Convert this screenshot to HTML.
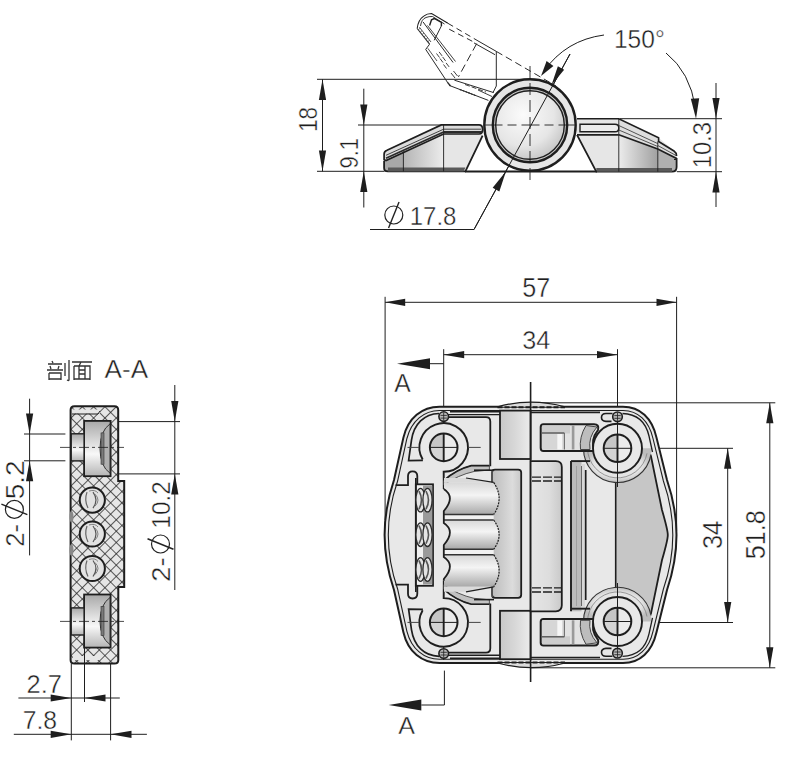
<!DOCTYPE html>
<html><head><meta charset="utf-8"><style>
html,body{margin:0;padding:0;background:#fff;width:799px;height:765px;overflow:hidden}
svg{display:block}
text{font-family:"Liberation Sans",sans-serif;fill:#1e1e1e}
</style></head><body>
<svg width="799" height="765" viewBox="0 0 799 765">
<rect width="799" height="765" fill="#fff"/>

<defs>
<linearGradient id="gH" x1="0" y1="0" x2="1" y2="0"><stop offset="0" stop-color="#9a9a9a"/><stop offset="1" stop-color="#ececec"/></linearGradient>
<linearGradient id="gHr" x1="0" y1="0" x2="1" y2="0"><stop offset="0" stop-color="#ececec"/><stop offset="1" stop-color="#a0a0a0"/></linearGradient>
<linearGradient id="gBar" x1="0" y1="0" x2="1" y2="0"><stop offset="0" stop-color="#c4c4c4"/><stop offset="0.5" stop-color="#e2e2e2"/><stop offset="1" stop-color="#cfcfcf"/></linearGradient>
<linearGradient id="gRoll" x1="0" y1="0" x2="0" y2="1"><stop offset="0" stop-color="#d8d8d8"/><stop offset="0.4" stop-color="#f4f4f4"/><stop offset="1" stop-color="#a8a8a8"/></linearGradient>
<linearGradient id="gPin" x1="0" y1="0" x2="0" y2="1"><stop offset="0" stop-color="#a8a8a8"/><stop offset="0.6" stop-color="#f8f8f8"/><stop offset="1" stop-color="#b4b4b4"/></linearGradient>
<radialGradient id="gBall" cx="0.4" cy="0.35" r="0.75"><stop offset="0" stop-color="#fbfbfb"/><stop offset="0.6" stop-color="#e6e6e6"/><stop offset="1" stop-color="#bdbdbd"/></radialGradient>
<linearGradient id="gH2" x1="0" y1="0" x2="1" y2="0"><stop offset="0" stop-color="#c8c8c8"/><stop offset="0.5" stop-color="#d8d8d8"/><stop offset="1" stop-color="#ececec"/></linearGradient>
<linearGradient id="gBar2" x1="0" y1="0" x2="1" y2="0"><stop offset="0" stop-color="#bcbcbc"/><stop offset="0.7" stop-color="#dcdcdc"/><stop offset="1" stop-color="#c8c8c8"/></linearGradient>
<linearGradient id="gBar3" x1="0" y1="0" x2="1" y2="0"><stop offset="0" stop-color="#e6e6e6"/><stop offset="0.6" stop-color="#dddddd"/><stop offset="1" stop-color="#c9c9c9"/></linearGradient>
<linearGradient id="gSlot" x1="0" y1="0" x2="0" y2="1"><stop offset="0" stop-color="#cfcfcf"/><stop offset="1" stop-color="#e6e6e6"/></linearGradient>
<radialGradient id="gRing" cx="0.5" cy="0.5" r="0.5"><stop offset="0.7" stop-color="#e4e4e4"/><stop offset="1" stop-color="#bdbdbd"/></radialGradient>
<pattern id="hatch" width="8" height="8" patternUnits="userSpaceOnUse" patternTransform="translate(71,406) rotate(45)">
<rect width="8" height="8" fill="#e6e6e6"/>
<line x1="0" y1="0" x2="0" y2="8" stroke="#262626" stroke-width="1.5"/>
<line x1="0" y1="0" x2="8" y2="0" stroke="#262626" stroke-width="1.5"/>
</pattern>
</defs>


<line x1="317.00" y1="79.30" x2="530.00" y2="79.30" stroke="#1e1e1e" stroke-width="1.0"/>
<line x1="317.00" y1="171.30" x2="386.00" y2="171.30" stroke="#1e1e1e" stroke-width="1.0"/>
<line x1="358.00" y1="125.00" x2="443.00" y2="125.00" stroke="#1e1e1e" stroke-width="1.0"/>
<line x1="620.00" y1="118.70" x2="722.00" y2="118.70" stroke="#1e1e1e" stroke-width="1.0"/>
<line x1="677.00" y1="171.70" x2="722.00" y2="171.70" stroke="#1e1e1e" stroke-width="1.0"/>
<line x1="322.50" y1="79.30" x2="322.50" y2="171.30" stroke="#1e1e1e" stroke-width="1.0"/>
<polygon points="322.50,79.30 326.10,100.00 318.90,100.00" fill="#1e1e1e"/>
<polygon points="322.50,171.30 318.90,150.50 326.10,150.50" fill="#1e1e1e"/>
<text x="0" y="0" font-size="48" transform="translate(307.75,119.10) rotate(-90) scale(0.4694,0.5441) translate(-27.50,17.00)" fill="#222" stroke="#fff" stroke-width="0.79" paint-order="normal">18</text>
<line x1="363.80" y1="88.70" x2="363.80" y2="207.50" stroke="#1e1e1e" stroke-width="1.0"/>
<polygon points="363.80,125.00 360.20,104.50 367.40,104.50" fill="#1e1e1e"/>
<polygon points="363.80,171.30 367.40,192.00 360.20,192.00" fill="#1e1e1e"/>
<text x="0" y="0" font-size="48" transform="translate(348.55,153.20) rotate(-90) scale(0.4571,0.5441) translate(-33.50,17.00)" fill="#222" stroke="#fff" stroke-width="0.80" paint-order="normal">9.1</text>
<line x1="716.00" y1="83.00" x2="716.00" y2="207.00" stroke="#1e1e1e" stroke-width="1.0"/>
<polygon points="716.00,118.70 712.40,98.00 719.60,98.00" fill="#1e1e1e"/>
<polygon points="716.00,171.70 719.60,192.50 712.40,192.50" fill="#1e1e1e"/>
<text x="0" y="0" font-size="48" transform="translate(701.45,144.80) rotate(-90) scale(0.4944,0.5441) translate(-47.50,17.00)" fill="#222" stroke="#fff" stroke-width="0.77" paint-order="normal">10.3</text>
<text x="0" y="0" font-size="48" transform="translate(639.55,38.75) rotate(0) scale(0.5117,0.5441) translate(-50.00,17.00)" fill="#222" stroke="#fff" stroke-width="0.76" paint-order="normal">150&#176;</text>
<path d="M604,35 Q566,40 544,71" fill="none" stroke="#1e1e1e" stroke-width="1.0" />
<polygon points="541.00,76.00 546.59,61.05 553.41,65.95" fill="#1e1e1e"/>
<path d="M666,53 Q690,72 695.5,108" fill="none" stroke="#1e1e1e" stroke-width="1.0" />
<polygon points="696.00,118.70 690.81,98.71 699.19,98.29" fill="#1e1e1e"/>
<line x1="370.00" y1="229.50" x2="474.00" y2="229.50" stroke="#1e1e1e" stroke-width="1.0"/>
<line x1="474.00" y1="229.50" x2="570.00" y2="54.00" stroke="#1e1e1e" stroke-width="1.0"/>
<polygon points="551.50,85.00 557.86,66.24 564.14,69.76" fill="#1e1e1e"/>
<text x="0" y="0" font-size="48" transform="translate(433.50,215.55) rotate(0) scale(0.4989,0.5441) translate(-47.50,17.00)" fill="#222" stroke="#fff" stroke-width="0.77" paint-order="normal">17.8</text>
<circle cx="393.80" cy="215.00" r="9.0" fill="none" stroke="#222" stroke-width="1.2"/>
<line x1="399.04" y1="202.02" x2="388.56" y2="227.98" stroke="#222" stroke-width="1.4"/>
<polygon points="384.10,151.50 441.30,124.90 482.00,124.90 482.60,135.60 465.40,171.40 384.10,171.40" fill="#e6e6e6" stroke="none" stroke-width="1.0" />
<polygon points="384.10,160.00 443.60,133.00 443.60,171.40 384.10,171.40" fill="url(#gH)" stroke="none" stroke-width="1.0" />
<polygon points="384.10,160.00 403.40,151.30 403.40,171.40 384.10,171.40" fill="#a8a8a8" stroke="none" stroke-width="1.0" />
<path d="M384.1,159.7 L384.1,154 Q384.1,151.5 387,150.3 L441.3,124.9 L479,124.9 Q482.6,124.9 482.6,129.5 Q482.6,134 479,134 L443.6,134 L386,160.5 Z" fill="#dcdcdc" stroke="#1e1e1e" stroke-width="1.7" />
<line x1="386.00" y1="155.30" x2="443.60" y2="129.20" stroke="#444" stroke-width="1.0"/>
<line x1="443.60" y1="129.20" x2="481.00" y2="129.20" stroke="#444" stroke-width="1.0"/>
<line x1="386.00" y1="158.30" x2="443.60" y2="132.00" stroke="#2a2a2a" stroke-width="1.8"/>
<line x1="443.60" y1="132.00" x2="482.00" y2="132.00" stroke="#2a2a2a" stroke-width="1.8"/>
<path d="M384.1,161 L384.1,168 Q384.1,171.4 388,171.4 L465.4,171.4 L482.6,135.6" fill="none" stroke="#1e1e1e" stroke-width="1.8" />
<polygon points="388.00,167.50 465.40,167.50 463.60,171.40 388.00,171.40" fill="#5a5a5a" stroke="none" stroke-width="1.0" />
<line x1="403.40" y1="151.30" x2="403.40" y2="171.40" stroke="#1e1e1e" stroke-width="0.9"/>
<line x1="443.60" y1="124.90" x2="443.60" y2="171.40" stroke="#1e1e1e" stroke-width="0.9"/>
<polygon points="577.00,118.70 618.80,118.70 658.60,137.80 676.60,152.80 676.60,171.70 596.30,171.70 577.00,134.80" fill="#e6e6e6" stroke="none" stroke-width="1.0" />
<polygon points="618.80,134.80 657.80,149.00 657.80,171.70 618.80,171.70" fill="url(#gHr)" stroke="none" stroke-width="1.0" />
<polygon points="657.80,149.00 676.60,157.30 676.60,171.70 657.80,171.70" fill="#b0b0b0" stroke="none" stroke-width="1.0" />
<polygon points="618.80,118.70 658.60,137.80 658.60,141.50 676.60,152.80 676.60,157.30 657.80,149.00 618.80,134.80" fill="#dedede" stroke="none" stroke-width="1.0" />
<path d="M577,118.7 L618.8,118.7 L658.6,137.8 L658.6,141.5 L674,151 Q676.6,152.8 676.6,156" fill="none" stroke="#1e1e1e" stroke-width="1.6" />
<line x1="618.80" y1="125.50" x2="657.80" y2="143.60" stroke="#444" stroke-width="0.9"/>
<line x1="657.80" y1="145.50" x2="676.00" y2="155.50" stroke="#444" stroke-width="0.9"/>
<line x1="618.80" y1="130.00" x2="657.80" y2="146.50" stroke="#444" stroke-width="0.9"/>
<path d="M618.8,134.8 L657.8,149 L676.6,158.5" fill="none" stroke="#1e1e1e" stroke-width="1.7" />
<path d="M580,124.3 L615,124.3 Q618.8,124.3 618.8,128 Q618.8,131.8 615,131.8 L580,131.8 Z" fill="#ececec" stroke="#1e1e1e" stroke-width="1.4" />
<line x1="577.00" y1="134.80" x2="618.80" y2="134.80" stroke="#1e1e1e" stroke-width="1.8"/>
<path d="M577,134.8 L596.3,171.7 L672,171.7 Q676.6,171.7 676.6,167 L676.6,158" fill="none" stroke="#1e1e1e" stroke-width="1.8" />
<polygon points="596.30,168.00 672.00,168.00 672.00,171.70 596.30,171.70" fill="#5a5a5a" stroke="none" stroke-width="1.0" />
<line x1="618.80" y1="118.70" x2="618.80" y2="171.70" stroke="#1e1e1e" stroke-width="0.9"/>
<line x1="657.80" y1="141.50" x2="657.80" y2="171.70" stroke="#1e1e1e" stroke-width="0.9"/>
<line x1="674.00" y1="159.50" x2="676.60" y2="159.50" stroke="#1e1e1e" stroke-width="1.0"/>
<line x1="465.00" y1="171.50" x2="597.00" y2="171.50" stroke="#1e1e1e" stroke-width="2.0"/>
<circle cx="530.00" cy="125.00" r="45.70" fill="#e6e6e6" stroke="#1e1e1e" stroke-width="2.4" />
<circle cx="530.00" cy="125.00" r="37.20" fill="#c8c8c8" stroke="#1e1e1e" stroke-width="2.4" />
<circle cx="530.00" cy="125.00" r="34.30" fill="url(#gBall)" stroke="#1e1e1e" stroke-width="1.4" />
<line x1="484.50" y1="125.00" x2="576.00" y2="125.00" stroke="#1e1e1e" stroke-width="0.9" stroke-dasharray="18 5 9 5"/>
<line x1="530.00" y1="66.00" x2="530.00" y2="183.00" stroke="#1e1e1e" stroke-width="0.9" stroke-dasharray="12 5"/>
<line x1="474.00" y1="229.50" x2="570.00" y2="54.00" stroke="#1e1e1e" stroke-width="1.0"/>
<polygon points="506.00,171.20 499.34,191.41 492.66,187.79" fill="#1e1e1e"/>
<path d="M417.2,28.5 Q418,20 423.7,16.1 Q427,13.5 431.6,13.5 L447.9,23.3" fill="none" stroke="#1e1e1e" stroke-width="1.1" />
<path d="M420.5,26 Q421.5,19 426,17.5 Q429,16.3 432.5,16.5 L444.5,24" fill="none" stroke="#1e1e1e" stroke-width="0.9" />
<path d="M429.6,25.5 L431.5,19.8 L434.2,18.5 L441.4,22.5 L441.4,25.9" fill="none" stroke="#1e1e1e" stroke-width="1.4" />
<line x1="441.40" y1="25.90" x2="434.20" y2="40.30" stroke="#2a2a2a" stroke-width="1.0"/>
<line x1="417.20" y1="28.50" x2="429.60" y2="44.20" stroke="#2a2a2a" stroke-width="1.1"/>
<line x1="419.40" y1="27.20" x2="431.00" y2="42.00" stroke="#2a2a2a" stroke-width="0.8"/>
<line x1="418.50" y1="29.50" x2="420.10" y2="28.30" stroke="#2a2a2a" stroke-width="0.7"/>
<line x1="420.40" y1="31.90" x2="422.00" y2="30.70" stroke="#2a2a2a" stroke-width="0.7"/>
<line x1="422.30" y1="34.30" x2="423.90" y2="33.10" stroke="#2a2a2a" stroke-width="0.7"/>
<line x1="424.20" y1="36.70" x2="425.80" y2="35.50" stroke="#2a2a2a" stroke-width="0.7"/>
<line x1="426.10" y1="39.10" x2="427.70" y2="37.90" stroke="#2a2a2a" stroke-width="0.7"/>
<line x1="428.00" y1="41.50" x2="429.60" y2="40.30" stroke="#2a2a2a" stroke-width="0.7"/>
<line x1="429.60" y1="44.20" x2="425.70" y2="49.40" stroke="#2a2a2a" stroke-width="1.0"/>
<line x1="425.70" y1="49.40" x2="447.30" y2="82.10" stroke="#2a2a2a" stroke-width="1.0"/>
<line x1="427.80" y1="48.30" x2="437.00" y2="61.00" stroke="#2a2a2a" stroke-width="0.8"/>
<line x1="423.10" y1="22.00" x2="453.10" y2="62.50" stroke="#2a2a2a" stroke-width="1.0"/>
<line x1="427.50" y1="25.50" x2="455.50" y2="61.50" stroke="#2a2a2a" stroke-width="0.9"/>
<line x1="436.50" y1="53.50" x2="439.50" y2="57.50" stroke="#2a2a2a" stroke-width="0.9"/>
<line x1="439.10" y1="51.90" x2="442.10" y2="55.90" stroke="#2a2a2a" stroke-width="0.9"/>
<line x1="440.00" y1="58.50" x2="443.00" y2="62.50" stroke="#2a2a2a" stroke-width="0.9"/>
<line x1="442.60" y1="56.90" x2="445.60" y2="60.90" stroke="#2a2a2a" stroke-width="0.9"/>
<line x1="443.50" y1="64.50" x2="446.50" y2="68.50" stroke="#2a2a2a" stroke-width="0.9"/>
<line x1="446.10" y1="62.90" x2="449.10" y2="66.90" stroke="#2a2a2a" stroke-width="0.9"/>
<line x1="451.00" y1="73.00" x2="455.00" y2="78.00" stroke="#2a2a2a" stroke-width="0.9"/>
<line x1="453.50" y1="71.00" x2="457.50" y2="76.00" stroke="#2a2a2a" stroke-width="0.9"/>
<line x1="447.90" y1="23.30" x2="478.00" y2="40.90" stroke="#2a2a2a" stroke-width="1.0" stroke-dasharray="6 4"/>
<line x1="449.20" y1="29.20" x2="475.40" y2="42.90" stroke="#2a2a2a" stroke-width="1.0" stroke-dasharray="6 4"/>
<line x1="478.00" y1="40.90" x2="496.30" y2="51.40" stroke="#2a2a2a" stroke-width="1.0"/>
<line x1="474.00" y1="42.90" x2="495.00" y2="54.70" stroke="#2a2a2a" stroke-width="1.0"/>
<line x1="496.30" y1="51.40" x2="556.00" y2="86.00" stroke="#2a2a2a" stroke-width="1.0" stroke-dasharray="7 4"/>
<line x1="496.30" y1="51.40" x2="496.30" y2="86.00" stroke="#2a2a2a" stroke-width="1.0"/>
<line x1="496.30" y1="86.00" x2="493.00" y2="92.60" stroke="#2a2a2a" stroke-width="1.0"/>
<line x1="476.70" y1="43.60" x2="458.40" y2="76.90" stroke="#2a2a2a" stroke-width="1.0" stroke-dasharray="8 4"/>
<line x1="447.30" y1="82.10" x2="450.50" y2="86.00" stroke="#2a2a2a" stroke-width="1.4"/>
<line x1="454.40" y1="80.20" x2="493.70" y2="92.60" stroke="#2a2a2a" stroke-width="1.0"/>
<line x1="449.20" y1="85.40" x2="488.40" y2="100.40" stroke="#2a2a2a" stroke-width="1.0"/>
<line x1="465.00" y1="84.50" x2="486.00" y2="92.00" stroke="#2a2a2a" stroke-width="0.9" stroke-dasharray="5 2"/>
<line x1="459.70" y1="89.40" x2="475.40" y2="95.40" stroke="#2a2a2a" stroke-width="1.1" stroke-dasharray="2 1"/>
<line x1="478.00" y1="90.00" x2="492.00" y2="96.50" stroke="#2a2a2a" stroke-width="0.9"/>
<text x="0" y="0" font-size="48" transform="translate(126.35,369.90) rotate(0) scale(0.5437,0.5212) translate(-40.00,16.50)" fill="#222" stroke="#fff" stroke-width="0.75" paint-order="normal">A-A</text>
<g stroke="#333" stroke-width="1.3" fill="none"><path d="M52,361 L53,363 M48,364 L62,364 M50,366 L51,369 M59,366 L58,369 M47,370 L63,370 M49,373 L49,380 M49,373 L61,373 L61,380 M49,379 L61,379 M65,363 L65,376 M69,360 L69,380 Q69,381 67,380"/><path d="M72,362 L92,362 M81,362 L79,366 M74,366 L74,380 M74,366 L90,366 L90,380 M74,379 L90,379 M79,366 L79,379 M85,366 L85,379 M79,370 L85,370 M79,374 L85,374"/></g>
<path d="M70.6,410 Q70.6,406.2 74.5,406.2 L114.5,406.2 Q118.2,406.2 118.2,410 L118.2,481 L124.2,481 L124.2,587 L118.3,587 L118.3,660 Q118.3,663.6 114.5,663.6 L74.5,663.6 Q70.6,663.6 70.6,660 Z" fill="url(#hatch)" stroke="#1e1e1e" stroke-width="2.0" />
<rect x="84.1" y="420.9" width="26.5" height="55.3" fill="url(#gPin)" stroke="#1e1e1e" stroke-width="1.8"/>
<path d="M110,423.9 Q100,430.9 100,448.54999999999995 Q100,466.2 110,473.2 Z" fill="#b0b0b0" stroke="#333" stroke-width="1.0"/>
<rect x="101" y="432.9" width="3" height="31.299999999999997" fill="#7a7a7a" stroke="#333" stroke-width="0.6"/>
<rect x="71.2" y="433.8" width="12.9" height="27.1" fill="url(#gPin)" stroke="#1e1e1e" stroke-width="1.4"/>
<rect x="84.1" y="594.5" width="26.5" height="53.1" fill="url(#gPin)" stroke="#1e1e1e" stroke-width="1.8"/>
<path d="M110,597.5 Q100,604.5 100,621.05 Q100,637.6 110,644.6 Z" fill="#b0b0b0" stroke="#333" stroke-width="1.0"/>
<rect x="101" y="606.5" width="3" height="29.1" fill="#7a7a7a" stroke="#333" stroke-width="0.6"/>
<rect x="71.2" y="607.9" width="12.9" height="27.1" fill="url(#gPin)" stroke="#1e1e1e" stroke-width="1.4"/>
<rect x="73" y="409.5" width="27" height="4" fill="#e6e6e6" stroke="none"/>
<path d="M72,414 L98,414 L100,411" fill="none" stroke="#1e1e1e" stroke-width="1.0" />
<rect x="73" y="656" width="27" height="4" fill="#e6e6e6" stroke="none"/>
<circle cx="92.30" cy="500.10" r="12.60" fill="#e2e2e2" stroke="#1e1e1e" stroke-width="2.0" />
<path d="M87,492.1 Q84,500.1 88,508.1" fill="none" stroke="#666" stroke-width="1.2" />
<path d="M93,492.1 Q99,500.1 93,508.1" fill="none" stroke="#555" stroke-width="1.2" />
<path d="M95,494.1 Q101,500.1 95,506.1" fill="none" stroke="#777" stroke-width="0.9" />
<path d="M89,491.1 Q95,489.1 98,493.1" fill="none" stroke="#777" stroke-width="0.9" />
<circle cx="92.30" cy="534.00" r="12.60" fill="#e2e2e2" stroke="#1e1e1e" stroke-width="2.0" />
<path d="M87,526.0 Q84,534.0 88,542.0" fill="none" stroke="#666" stroke-width="1.2" />
<path d="M93,526.0 Q99,534.0 93,542.0" fill="none" stroke="#555" stroke-width="1.2" />
<path d="M95,528.0 Q101,534.0 95,540.0" fill="none" stroke="#777" stroke-width="0.9" />
<path d="M89,525.0 Q95,523.0 98,527.0" fill="none" stroke="#777" stroke-width="0.9" />
<circle cx="92.30" cy="568.50" r="12.60" fill="#e2e2e2" stroke="#1e1e1e" stroke-width="2.0" />
<path d="M87,560.5 Q84,568.5 88,576.5" fill="none" stroke="#666" stroke-width="1.2" />
<path d="M93,560.5 Q99,568.5 93,576.5" fill="none" stroke="#555" stroke-width="1.2" />
<path d="M95,562.5 Q101,568.5 95,574.5" fill="none" stroke="#777" stroke-width="0.9" />
<path d="M89,559.5 Q95,557.5 98,561.5" fill="none" stroke="#777" stroke-width="0.9" />
<ellipse cx="71.5" cy="516.7" rx="2" ry="6" fill="#888"/>
<ellipse cx="71.5" cy="550" rx="2" ry="6" fill="#888"/>
<line x1="60.00" y1="447.40" x2="124.00" y2="447.40" stroke="#1e1e1e" stroke-width="0.8" stroke-dasharray="10 3 3 3"/>
<line x1="60.00" y1="621.40" x2="124.00" y2="621.40" stroke="#1e1e1e" stroke-width="0.8" stroke-dasharray="10 3 3 3"/>
<line x1="119.00" y1="421.60" x2="180.00" y2="421.60" stroke="#1e1e1e" stroke-width="1.0"/>
<line x1="119.00" y1="473.90" x2="180.00" y2="473.90" stroke="#1e1e1e" stroke-width="1.0"/>
<line x1="174.80" y1="385.00" x2="174.80" y2="590.00" stroke="#1e1e1e" stroke-width="1.0"/>
<polygon points="174.80,421.60 171.20,401.00 178.40,401.00" fill="#1e1e1e"/>
<polygon points="174.80,473.90 178.40,494.50 171.20,494.50" fill="#1e1e1e"/>
<text x="0" y="0" font-size="48" transform="translate(160.75,569.45) rotate(-90) scale(0.5667,0.5441) translate(-21.50,17.00)" fill="#222" stroke="#fff" stroke-width="0.72" paint-order="normal">2-</text>
<circle cx="160.50" cy="544.00" r="9.0" fill="none" stroke="#222" stroke-width="1.2"/>
<line x1="147.52" y1="538.76" x2="173.48" y2="549.24" stroke="#222" stroke-width="1.4"/>
<text x="0" y="0" font-size="48" transform="translate(160.75,504.40) rotate(-90) scale(0.5056,0.5441) translate(-47.50,17.00)" fill="#222" stroke="#fff" stroke-width="0.76" paint-order="normal">10.2</text>
<line x1="24.00" y1="434.00" x2="65.40" y2="434.00" stroke="#1e1e1e" stroke-width="1.0"/>
<line x1="24.00" y1="460.80" x2="65.40" y2="460.80" stroke="#1e1e1e" stroke-width="1.0"/>
<line x1="29.60" y1="398.70" x2="29.60" y2="555.40" stroke="#1e1e1e" stroke-width="1.0"/>
<polygon points="29.60,434.00 26.00,413.50 33.20,413.50" fill="#1e1e1e"/>
<polygon points="29.60,460.80 33.20,481.30 26.00,481.30" fill="#1e1e1e"/>
<text x="0" y="0" font-size="48" transform="translate(14.45,535.25) rotate(-90) scale(0.5359,0.5441) translate(-21.50,17.00)" fill="#222" stroke="#fff" stroke-width="0.74" paint-order="normal">2-</text>
<circle cx="14.40" cy="509.40" r="9.0" fill="none" stroke="#222" stroke-width="1.2"/>
<line x1="1.42" y1="504.16" x2="27.38" y2="514.64" stroke="#222" stroke-width="1.4"/>
<text x="0" y="0" font-size="48" transform="translate(14.45,479.85) rotate(-90) scale(0.5825,0.5441) translate(-33.50,17.00)" fill="#222" stroke="#fff" stroke-width="0.71" paint-order="normal">5.2</text>
<line x1="71.30" y1="663.60" x2="71.30" y2="740.40" stroke="#1e1e1e" stroke-width="1.0"/>
<line x1="84.50" y1="640.00" x2="84.50" y2="702.00" stroke="#1e1e1e" stroke-width="1.0"/>
<line x1="110.60" y1="663.60" x2="110.60" y2="740.40" stroke="#1e1e1e" stroke-width="1.0"/>
<line x1="18.40" y1="698.00" x2="119.80" y2="698.00" stroke="#1e1e1e" stroke-width="1.0"/>
<polygon points="71.30,698.00 50.70,701.60 50.70,694.40" fill="#1e1e1e"/>
<polygon points="84.50,698.00 105.50,694.40 105.50,701.60" fill="#1e1e1e"/>
<line x1="13.80" y1="734.30" x2="146.90" y2="734.30" stroke="#1e1e1e" stroke-width="1.0"/>
<polygon points="71.30,734.30 50.70,737.90 50.70,730.70" fill="#1e1e1e"/>
<polygon points="110.60,734.30 131.50,730.70 131.50,737.90" fill="#1e1e1e"/>
<text x="0" y="0" font-size="48" transform="translate(44.30,683.15) rotate(0) scale(0.5302,0.5500) translate(-33.50,17.00)" fill="#222" stroke="#fff" stroke-width="0.74" paint-order="normal">2.7</text>
<text x="0" y="0" font-size="48" transform="translate(39.90,720.15) rotate(0) scale(0.5143,0.5324) translate(-33.50,17.00)" fill="#222" stroke="#fff" stroke-width="0.76" paint-order="normal">7.8</text>
<line x1="385.10" y1="296.80" x2="385.10" y2="520.00" stroke="#1e1e1e" stroke-width="1.0"/>
<line x1="676.60" y1="296.80" x2="676.60" y2="531.00" stroke="#1e1e1e" stroke-width="1.0"/>
<line x1="385.10" y1="302.30" x2="676.60" y2="302.30" stroke="#1e1e1e" stroke-width="1.0"/>
<polygon points="385.10,302.30 405.20,298.70 405.20,305.90" fill="#1e1e1e"/>
<polygon points="676.60,302.30 656.50,305.90 656.50,298.70" fill="#1e1e1e"/>
<text x="0" y="0" font-size="48" transform="translate(536.30,288.05) rotate(0) scale(0.5240,0.5606) translate(-27.00,16.50)" fill="#222" stroke="#fff" stroke-width="0.74" paint-order="normal">57</text>
<line x1="443.70" y1="349.20" x2="443.70" y2="412.00" stroke="#1e1e1e" stroke-width="1.0"/>
<line x1="617.50" y1="349.20" x2="617.50" y2="412.00" stroke="#1e1e1e" stroke-width="1.0"/>
<line x1="443.70" y1="354.70" x2="617.50" y2="354.70" stroke="#1e1e1e" stroke-width="1.0"/>
<polygon points="443.70,354.70 464.20,351.10 464.20,358.30" fill="#1e1e1e"/>
<polygon points="617.50,354.70 597.00,358.30 597.00,351.10" fill="#1e1e1e"/>
<text x="0" y="0" font-size="48" transform="translate(536.60,340.15) rotate(0) scale(0.5255,0.5441) translate(-27.50,17.00)" fill="#222" stroke="#fff" stroke-width="0.75" paint-order="normal">34</text>
<line x1="430.00" y1="363.70" x2="443.70" y2="363.70" stroke="#1e1e1e" stroke-width="1.0"/>
<polygon points="397.00,363.70 430.00,358.20 430.00,369.20" fill="#1e1e1e"/>
<text x="0" y="0" font-size="48" transform="translate(402.45,383.20) rotate(0) scale(0.5156,0.5394) translate(-16.00,16.50)" fill="#222" stroke="#fff" stroke-width="0.76" paint-order="normal">A</text>
<line x1="444.40" y1="670.60" x2="444.40" y2="705.00" stroke="#1e1e1e" stroke-width="1.0"/>
<line x1="421.30" y1="705.00" x2="444.40" y2="705.00" stroke="#1e1e1e" stroke-width="1.0"/>
<polygon points="388.60,705.00 421.30,699.50 421.30,710.50" fill="#1e1e1e"/>
<text x="0" y="0" font-size="48" transform="translate(406.55,725.50) rotate(0) scale(0.5219,0.5152) translate(-16.00,16.50)" fill="#222" stroke="#fff" stroke-width="0.77" paint-order="normal">A</text>
<line x1="531.00" y1="402.80" x2="775.30" y2="402.80" stroke="#1e1e1e" stroke-width="1.0"/>
<line x1="531.00" y1="667.80" x2="775.30" y2="667.80" stroke="#1e1e1e" stroke-width="1.0"/>
<line x1="769.80" y1="402.80" x2="769.80" y2="667.80" stroke="#1e1e1e" stroke-width="1.0"/>
<polygon points="769.80,402.80 773.40,423.30 766.20,423.30" fill="#1e1e1e"/>
<polygon points="769.80,667.80 766.20,647.30 773.40,647.30" fill="#1e1e1e"/>
<text x="0" y="0" font-size="48" transform="translate(755.05,534.55) rotate(-90) scale(0.5233,0.5618) translate(-47.00,17.00)" fill="#222" stroke="#fff" stroke-width="0.74" paint-order="normal">51.8</text>
<line x1="617.50" y1="448.30" x2="733.00" y2="448.30" stroke="#1e1e1e" stroke-width="1.0"/>
<line x1="617.50" y1="622.50" x2="733.00" y2="622.50" stroke="#1e1e1e" stroke-width="1.0"/>
<line x1="727.70" y1="448.30" x2="727.70" y2="622.50" stroke="#1e1e1e" stroke-width="1.0"/>
<polygon points="727.70,448.30 731.30,468.80 724.10,468.80" fill="#1e1e1e"/>
<polygon points="727.70,622.50 724.10,602.00 731.30,602.00" fill="#1e1e1e"/>
<text x="0" y="0" font-size="48" transform="translate(712.50,534.50) rotate(-90) scale(0.5294,0.5588) translate(-27.50,17.00)" fill="#222" stroke="#fff" stroke-width="0.74" paint-order="normal">34</text>
<path d="M439.5,406.8 L623,406.8 C640,406.8 652,418 656.5,437.6 L667,480 Q676.5,508 676.5,535 Q676.5,562 667,590 L656.5,632.2 C652,651.8 640,663 623,663 L439.5,663 C422,663 408,652 403.4,632.2 L394,590 Q384.6,562 384.6,535 Q384.6,508 394,480 L403.4,437.6 C408,418 422,406.8 439.5,406.8 Z" fill="#e8e8e8" stroke="#1e1e1e" stroke-width="2.0" />
<path d="M439.5,410.5 L623,410.5 C638,410.5 649,421 653,438.5 L663.4,481 Q672.8,508 672.8,535 Q672.8,562 663.4,589 L653,631.3 C649,649 638,659.3 623,659.3 L439.5,659.3 C424,659.3 411.5,649 406.9,631.3 L397.6,589 Q388.3,562 388.3,535 Q388.3,508 397.6,481 L406.9,438.5 C411.5,421 424,410.5 439.5,410.5 Z" fill="none" stroke="#1e1e1e" stroke-width="1.1" />
<path d="M497.5,406.8 Q531,397.5 565,406.8 Z" fill="#dcdcdc" stroke="none"/>
<path d="M497.5,663 Q531,672.3 565,663 Z" fill="#dcdcdc" stroke="none"/>
<path d="M497.5,406.8 Q531,397.5 565,406.8" fill="none" stroke="#1e1e1e" stroke-width="1.2" />
<path d="M497.5,663 Q531,672.3 565,663" fill="none" stroke="#1e1e1e" stroke-width="1.2" />
<line x1="497.50" y1="407.20" x2="565.00" y2="407.20" stroke="#1e1e1e" stroke-width="2.0" stroke-dasharray="5 2"/>
<line x1="497.50" y1="662.60" x2="565.00" y2="662.60" stroke="#1e1e1e" stroke-width="2.0" stroke-dasharray="5 2"/>
<line x1="531.00" y1="412.30" x2="600.00" y2="412.30" stroke="#1e1e1e" stroke-width="1.7"/>
<line x1="531.00" y1="657.50" x2="600.00" y2="657.50" stroke="#1e1e1e" stroke-width="1.7"/>
<line x1="450.00" y1="411.60" x2="500.00" y2="411.60" stroke="#1e1e1e" stroke-width="1.6"/>
<line x1="450.00" y1="658.20" x2="500.00" y2="658.20" stroke="#1e1e1e" stroke-width="1.6"/>
<path d="M439,413.5 C424,414 414,424 411.5,440 L408.6,460.7 L422.9,460.4" fill="none" stroke="#1e1e1e" stroke-width="1.7" />
<line x1="448.00" y1="414.60" x2="500.00" y2="414.60" stroke="#1e1e1e" stroke-width="1.4"/>
<path d="M448.5,417.2 L486,417.2 Q490.3,417.2 490.3,421.5 L490.3,466.3" fill="none" stroke="#1e1e1e" stroke-width="1.8" />
<path d="M422.66,459.55 A24.3,24.3 0 1,1 443.70,471.70 L443.8,489" fill="none" stroke="#1e1e1e" stroke-width="1.9" />
<path d="M443.8,480.5 Q456,469.5 471.3,465.6 L489.4,465.6 L489.4,470 L474,471.5 Q458,475 443.8,485 Z" fill="#c2c2c2" stroke="#444" stroke-width="0.9" />
<path d="M443.8,480.5 Q456,469.5 471.3,465.6 L489.4,465.6" fill="none" stroke="#1e1e1e" stroke-width="1.6" />
<line x1="474.00" y1="470.20" x2="494.00" y2="470.20" stroke="#1e1e1e" stroke-width="1.6"/>
<rect x="500" y="410.6" width="30.6" height="48.4" fill="url(#gH2)" stroke="#1e1e1e" stroke-width="1.8"/>
<path d="M395.5,485.2 L408,485.2 L408,476 Q408,471.3 412.6,471.3 Q417.3,471.3 417.3,476 L417.3,484.7" fill="none" stroke="#1e1e1e" stroke-width="1.8" />
<g transform="matrix(1,0,0,-1,0,1069.8)">
<path d="M439,413.5 C424,414 414,424 411.5,440 L408.6,460.7 L422.9,460.4" fill="none" stroke="#1e1e1e" stroke-width="1.7" />
<line x1="448.00" y1="414.60" x2="500.00" y2="414.60" stroke="#1e1e1e" stroke-width="1.4"/>
<path d="M448.5,417.2 L486,417.2 Q490.3,417.2 490.3,421.5 L490.3,466.3" fill="none" stroke="#1e1e1e" stroke-width="1.8" />
<path d="M422.66,459.55 A24.3,24.3 0 1,1 443.70,471.70 L443.8,489" fill="none" stroke="#1e1e1e" stroke-width="1.9" />
<path d="M443.8,480.5 Q456,469.5 471.3,465.6 L489.4,465.6 L489.4,470 L474,471.5 Q458,475 443.8,485 Z" fill="#c2c2c2" stroke="#444" stroke-width="0.9" />
<path d="M443.8,480.5 Q456,469.5 471.3,465.6 L489.4,465.6" fill="none" stroke="#1e1e1e" stroke-width="1.6" />
<line x1="474.00" y1="470.20" x2="494.00" y2="470.20" stroke="#1e1e1e" stroke-width="1.6"/>
<rect x="500" y="410.6" width="30.6" height="48.4" fill="url(#gH2)" stroke="#1e1e1e" stroke-width="1.8"/>
<path d="M395.5,485.2 L408,485.2 L408,476 Q408,471.3 412.6,471.3 Q417.3,471.3 417.3,476 L417.3,484.7" fill="none" stroke="#1e1e1e" stroke-width="1.8" />
</g>
<rect x="492" y="469.6" width="29.2" height="128.2" rx="3" fill="url(#gBar2)" stroke="#1e1e1e" stroke-width="1.8"/>
<line x1="492.00" y1="471.00" x2="492.00" y2="597.00" stroke="#777" stroke-width="1.0"/>
<path d="M444,482.4 L493.7,482.4 Q504.5,498.45 493.7,514.5 L444,514.5 Z" fill="url(#gRoll)" stroke="none"/>
<path d="M493.7,482.4 Q504.5,498.45 493.7,514.5" fill="none" stroke="#1e1e1e" stroke-width="1.2" stroke-dasharray="2 1"/>
<path d="M444,520 L493.7,520 Q504.5,534.6 493.7,549.2 L444,549.2 Z" fill="url(#gRoll)" stroke="none"/>
<path d="M493.7,520 Q504.5,534.6 493.7,549.2" fill="none" stroke="#1e1e1e" stroke-width="1.2" stroke-dasharray="2 1"/>
<path d="M444,554.7 L493.7,554.7 Q504.5,570.75 493.7,586.8 L444,586.8 Z" fill="url(#gRoll)" stroke="none"/>
<path d="M493.7,554.7 Q504.5,570.75 493.7,586.8" fill="none" stroke="#1e1e1e" stroke-width="1.2" stroke-dasharray="2 1"/>
<path d="M444,478 L466,478 L493.7,482.4 L444,482.4 Z" fill="#dadada"/>
<path d="M444,591.8 L466,591.8 L493.7,586.8 L444,586.8 Z" fill="#dadada"/>
<rect x="444" y="514.5" width="49.7" height="5.5" fill="#f2f2f2"/>
<rect x="444" y="549.2" width="49.7" height="5.5" fill="#f2f2f2"/>
<line x1="444.00" y1="514.50" x2="493.70" y2="514.50" stroke="#333" stroke-width="1.4"/>
<line x1="444.00" y1="520.00" x2="493.70" y2="520.00" stroke="#333" stroke-width="1.4"/>
<line x1="444.00" y1="549.20" x2="493.70" y2="549.20" stroke="#333" stroke-width="1.4"/>
<line x1="444.00" y1="554.70" x2="493.70" y2="554.70" stroke="#333" stroke-width="1.4"/>
<line x1="466.00" y1="478.00" x2="493.70" y2="482.40" stroke="#1e1e1e" stroke-width="1.2"/>
<line x1="466.00" y1="591.80" x2="493.70" y2="586.80" stroke="#1e1e1e" stroke-width="1.2"/>
<path d="M443.8,489 Q456,497 443.8,511 L443.8,523 Q456,531 443.8,545 L443.8,557 Q456,565 443.8,579 L443.8,580.8" fill="#e8e8e8" stroke="#1e1e1e" stroke-width="1.8"/>
<rect x="415.8" y="484.3" width="17.2" height="101.5" fill="#f0f0f0" stroke="#1e1e1e" stroke-width="1.8"/>
<rect x="423" y="485.5" width="9.3" height="99" fill="#9a9a9a"/>
<line x1="415.80" y1="478.00" x2="415.80" y2="592.00" stroke="#1e1e1e" stroke-width="1.6"/>
<ellipse cx="420.5" cy="500.1" rx="4.6" ry="11.8" fill="#e4e4e4" stroke="#2a2a2a" stroke-width="1.3"/>
<path d="M419.0,491.1 Q424.0,500.1 419.0,509.1" fill="none" stroke="#555" stroke-width="1.6" />
<ellipse cx="427.5" cy="500.1" rx="4.6" ry="11.8" fill="#e4e4e4" stroke="#2a2a2a" stroke-width="1.3"/>
<path d="M426.0,491.1 Q431.0,500.1 426.0,509.1" fill="none" stroke="#555" stroke-width="1.6" />
<ellipse cx="420.5" cy="534.7" rx="4.6" ry="11.8" fill="#e4e4e4" stroke="#2a2a2a" stroke-width="1.3"/>
<path d="M419.0,525.7 Q424.0,534.7 419.0,543.7" fill="none" stroke="#555" stroke-width="1.6" />
<ellipse cx="427.5" cy="534.7" rx="4.6" ry="11.8" fill="#e4e4e4" stroke="#2a2a2a" stroke-width="1.3"/>
<path d="M426.0,525.7 Q431.0,534.7 426.0,543.7" fill="none" stroke="#555" stroke-width="1.6" />
<ellipse cx="420.5" cy="569.5" rx="4.6" ry="11.8" fill="#e4e4e4" stroke="#2a2a2a" stroke-width="1.3"/>
<path d="M419.0,560.5 Q424.0,569.5 419.0,578.5" fill="none" stroke="#555" stroke-width="1.6" />
<ellipse cx="427.5" cy="569.5" rx="4.6" ry="11.8" fill="#e4e4e4" stroke="#2a2a2a" stroke-width="1.3"/>
<path d="M426.0,560.5 Q431.0,569.5 426.0,578.5" fill="none" stroke="#555" stroke-width="1.6" />
<line x1="530.60" y1="382.00" x2="530.60" y2="682.00" stroke="#1e1e1e" stroke-width="1.6"/>
<path d="M530.6,461.1 L555.8,461.1 Q561.8,461.1 561.8,467 L561.8,605.3 Q561.8,611.3 555.8,611.3 L530.6,611.3 Z" fill="url(#gBar3)" stroke="#1e1e1e" stroke-width="1.8"/>
<line x1="532.00" y1="477.20" x2="561.00" y2="477.20" stroke="#1e1e1e" stroke-width="1.3" stroke-dasharray="9 2"/>
<line x1="532.00" y1="481.00" x2="561.00" y2="481.00" stroke="#1e1e1e" stroke-width="1.3" stroke-dasharray="9 2"/>
<line x1="532.00" y1="587.80" x2="561.00" y2="587.80" stroke="#1e1e1e" stroke-width="1.3" stroke-dasharray="9 2"/>
<line x1="532.00" y1="592.00" x2="561.00" y2="592.00" stroke="#1e1e1e" stroke-width="1.3" stroke-dasharray="9 2"/>
<rect x="571" y="461.1" width="10.5" height="150.2" fill="#bcbcbc"/>
<rect x="581.5" y="464" width="3.5" height="144" fill="#d8d8d8"/>
<line x1="571.00" y1="461.10" x2="571.00" y2="611.30" stroke="#1e1e1e" stroke-width="1.9"/>
<line x1="576.50" y1="466.00" x2="576.50" y2="606.00" stroke="#999" stroke-width="0.8"/>
<line x1="581.50" y1="466.00" x2="581.50" y2="606.00" stroke="#666" stroke-width="1.0"/>
<line x1="585.70" y1="470.00" x2="585.70" y2="600.00" stroke="#1e1e1e" stroke-width="1.7"/>
<path d="M615.7,482.3 A34,34 0 0,0 650.8,455.4 L662,510 Q667.8,530 667.8,534.9 Q667.8,540 662,560 L650.8,614.4 A34,34 0 0,0 615.7,587.5 Z" fill="#c6c6c6"/>
<line x1="615.70" y1="482.00" x2="615.70" y2="588.00" stroke="#1e1e1e" stroke-width="1.6"/>
<path d="M650.8,455.4 L662,510 Q667.8,530 667.8,534.9 Q667.8,540 662,560 L650.8,614.4" fill="none" stroke="#1e1e1e" stroke-width="1.8" />
<path d="M583.5,448.3 A34,34 0 0,0 651.5,448.3 L641.9,448.3 A24.4,24.4 0 0,1 593.1,448.3 Z" fill="url(#gRing)" stroke="none"/>
<path d="M583.5,448.3 A34,34 0 0,0 651.0,454.3" fill="none" stroke="#333" stroke-width="1.1" />
<path d="M587.5,448.3 A30,30 0 0,0 647.0,453.3" fill="none" stroke="#777" stroke-width="0.7" />
<path d="M543.5,424.2 L594,424.2 Q599.5,424.2 598,430 Q590,440 594.6,450.9 L543.5,450.9 Q540.7,450.9 540.7,448 L540.7,427 Q540.7,424.2 543.5,424.2 Z" fill="#e2e2e2" stroke="#1e1e1e" stroke-width="2"/>
<rect x="542" y="425.5" width="28" height="8" fill="#cdcdcd"/>
<rect x="542" y="432.5" width="22.4" height="17" fill="#d6d6d6"/>
<line x1="542.00" y1="433.00" x2="564.40" y2="433.00" stroke="#555" stroke-width="1.4"/>
<rect x="557.3" y="434" width="4.9" height="15.5" fill="#f6f6f6"/>
<line x1="564.40" y1="433.00" x2="564.40" y2="449.50" stroke="#666" stroke-width="1.0"/>
<rect x="571.8" y="425.5" width="2.6" height="24" fill="#9a9a9a"/>
<path d="M586,425.5 Q579,437 580.5,449.5 L590,449.5 Q588,437 597,427 Z" fill="#bdbdbd" stroke="#444" stroke-width="1"/>
<line x1="571.00" y1="461.10" x2="590.00" y2="461.10" stroke="#1e1e1e" stroke-width="1.9"/>
<path d="M611.5,421.4 L606,421.4 Q601.5,421 601.5,417.5 Q601.5,413.5 606,413.5 L612.5,413.5" fill="none" stroke="#1e1e1e" stroke-width="1.6" />
<path d="M622.5,413.5 C638,414 646,423 649,436 L652.5,452" fill="none" stroke="#1e1e1e" stroke-width="1.3" />
<circle cx="617.50" cy="448.30" r="24.50" fill="#e8e8e8" stroke="#1e1e1e" stroke-width="1.9" />
<g transform="matrix(1,0,0,-1,0,1069.8)">
<path d="M583.5,448.3 A34,34 0 0,0 651.5,448.3 L641.9,448.3 A24.4,24.4 0 0,1 593.1,448.3 Z" fill="url(#gRing)" stroke="none"/>
<path d="M583.5,448.3 A34,34 0 0,0 651.0,454.3" fill="none" stroke="#333" stroke-width="1.1" />
<path d="M587.5,448.3 A30,30 0 0,0 647.0,453.3" fill="none" stroke="#777" stroke-width="0.7" />
<path d="M543.5,424.2 L594,424.2 Q599.5,424.2 598,430 Q590,440 594.6,450.9 L543.5,450.9 Q540.7,450.9 540.7,448 L540.7,427 Q540.7,424.2 543.5,424.2 Z" fill="#e2e2e2" stroke="#1e1e1e" stroke-width="2"/>
<rect x="542" y="425.5" width="28" height="8" fill="#cdcdcd"/>
<rect x="542" y="432.5" width="22.4" height="17" fill="#d6d6d6"/>
<line x1="542.00" y1="433.00" x2="564.40" y2="433.00" stroke="#555" stroke-width="1.4"/>
<rect x="557.3" y="434" width="4.9" height="15.5" fill="#f6f6f6"/>
<line x1="564.40" y1="433.00" x2="564.40" y2="449.50" stroke="#666" stroke-width="1.0"/>
<rect x="571.8" y="425.5" width="2.6" height="24" fill="#9a9a9a"/>
<path d="M586,425.5 Q579,437 580.5,449.5 L590,449.5 Q588,437 597,427 Z" fill="#bdbdbd" stroke="#444" stroke-width="1"/>
<line x1="571.00" y1="461.10" x2="590.00" y2="461.10" stroke="#1e1e1e" stroke-width="1.9"/>
<path d="M611.5,421.4 L606,421.4 Q601.5,421 601.5,417.5 Q601.5,413.5 606,413.5 L612.5,413.5" fill="none" stroke="#1e1e1e" stroke-width="1.6" />
<path d="M622.5,413.5 C638,414 646,423 649,436 L652.5,452" fill="none" stroke="#1e1e1e" stroke-width="1.3" />
<circle cx="617.50" cy="448.30" r="24.50" fill="#e8e8e8" stroke="#1e1e1e" stroke-width="1.9" />
</g>
<circle cx="443.70" cy="447.40" r="13.80" fill="#ebebeb" stroke="#1e1e1e" stroke-width="0" />
<path d="M443.7,447.4 L443.7,433.59999999999997 A13.8,13.8 0 0,0 429.9,447.4 Z" fill="#c6c6c6"/>
<path d="M443.7,447.4 L429.9,447.4 A13.8,13.8 0 0,0 443.7,461.2 Z" fill="#d4d4d4"/>
<circle cx="443.70" cy="447.40" r="13.80" fill="none" stroke="#1e1e1e" stroke-width="2.0" />
<line x1="443.70" y1="433.60" x2="443.70" y2="461.20" stroke="#1e1e1e" stroke-width="1.9"/>
<line x1="429.90" y1="447.40" x2="457.50" y2="447.40" stroke="#1e1e1e" stroke-width="1.0"/>
<circle cx="443.70" cy="622.40" r="13.80" fill="#ebebeb" stroke="#1e1e1e" stroke-width="0" />
<path d="M443.7,622.4 L443.7,608.6 A13.8,13.8 0 0,0 429.9,622.4 Z" fill="#c6c6c6"/>
<path d="M443.7,622.4 L429.9,622.4 A13.8,13.8 0 0,0 443.7,636.1999999999999 Z" fill="#d4d4d4"/>
<circle cx="443.70" cy="622.40" r="13.80" fill="none" stroke="#1e1e1e" stroke-width="2.0" />
<line x1="443.70" y1="608.60" x2="443.70" y2="636.20" stroke="#1e1e1e" stroke-width="1.9"/>
<line x1="429.90" y1="622.40" x2="457.50" y2="622.40" stroke="#1e1e1e" stroke-width="1.0"/>
<circle cx="617.50" cy="448.30" r="13.80" fill="#ebebeb" stroke="#1e1e1e" stroke-width="0" />
<path d="M617.5,448.3 L617.5,434.5 A13.8,13.8 0 0,0 603.7,448.3 Z" fill="#c6c6c6"/>
<path d="M617.5,448.3 L603.7,448.3 A13.8,13.8 0 0,0 617.5,462.1 Z" fill="#d4d4d4"/>
<circle cx="617.50" cy="448.30" r="13.80" fill="none" stroke="#1e1e1e" stroke-width="2.0" />
<line x1="617.50" y1="434.50" x2="617.50" y2="462.10" stroke="#1e1e1e" stroke-width="1.9"/>
<line x1="603.70" y1="448.30" x2="631.30" y2="448.30" stroke="#1e1e1e" stroke-width="1.0"/>
<circle cx="617.50" cy="621.50" r="13.80" fill="#ebebeb" stroke="#1e1e1e" stroke-width="0" />
<path d="M617.5,621.5 L617.5,607.7 A13.8,13.8 0 0,0 603.7,621.5 Z" fill="#c6c6c6"/>
<path d="M617.5,621.5 L603.7,621.5 A13.8,13.8 0 0,0 617.5,635.3 Z" fill="#d4d4d4"/>
<circle cx="617.50" cy="621.50" r="13.80" fill="none" stroke="#1e1e1e" stroke-width="2.0" />
<line x1="617.50" y1="607.70" x2="617.50" y2="635.30" stroke="#1e1e1e" stroke-width="1.9"/>
<line x1="603.70" y1="621.50" x2="631.30" y2="621.50" stroke="#1e1e1e" stroke-width="1.0"/>
<line x1="617.50" y1="412.00" x2="617.50" y2="487.00" stroke="#1e1e1e" stroke-width="1.0"/>
<line x1="617.50" y1="583.00" x2="617.50" y2="658.00" stroke="#1e1e1e" stroke-width="1.0"/>
<line x1="443.70" y1="412.00" x2="443.70" y2="423.00" stroke="#1e1e1e" stroke-width="1.0"/>
<line x1="443.70" y1="646.00" x2="443.70" y2="660.00" stroke="#1e1e1e" stroke-width="1.0"/>
<line x1="407.50" y1="447.40" x2="419.20" y2="447.40" stroke="#444" stroke-width="1.0"/>
<line x1="468.20" y1="447.40" x2="480.70" y2="447.40" stroke="#444" stroke-width="1.0"/>
<line x1="407.50" y1="622.40" x2="419.20" y2="622.40" stroke="#444" stroke-width="1.0"/>
<line x1="468.20" y1="622.40" x2="480.70" y2="622.40" stroke="#444" stroke-width="1.0"/>
<circle cx="443.70" cy="416.60" r="4.80" fill="#b8b8b8" stroke="#1e1e1e" stroke-width="1.6" />
<line x1="440.50" y1="415.40" x2="446.90" y2="415.40" stroke="#1e1e1e" stroke-width="0.8"/>
<line x1="440.50" y1="418.10" x2="446.90" y2="418.10" stroke="#1e1e1e" stroke-width="0.8"/>
<line x1="443.70" y1="412.60" x2="443.70" y2="420.60" stroke="#1e1e1e" stroke-width="0.8"/>
<circle cx="443.70" cy="653.50" r="4.80" fill="#b8b8b8" stroke="#1e1e1e" stroke-width="1.6" />
<line x1="440.50" y1="652.30" x2="446.90" y2="652.30" stroke="#1e1e1e" stroke-width="0.8"/>
<line x1="440.50" y1="655.00" x2="446.90" y2="655.00" stroke="#1e1e1e" stroke-width="0.8"/>
<line x1="443.70" y1="649.50" x2="443.70" y2="657.50" stroke="#1e1e1e" stroke-width="0.8"/>
<circle cx="617.50" cy="416.80" r="4.80" fill="#b8b8b8" stroke="#1e1e1e" stroke-width="1.6" />
<line x1="614.30" y1="415.60" x2="620.70" y2="415.60" stroke="#1e1e1e" stroke-width="0.8"/>
<line x1="614.30" y1="418.30" x2="620.70" y2="418.30" stroke="#1e1e1e" stroke-width="0.8"/>
<line x1="617.50" y1="412.80" x2="617.50" y2="420.80" stroke="#1e1e1e" stroke-width="0.8"/>
<circle cx="617.50" cy="653.20" r="4.80" fill="#b8b8b8" stroke="#1e1e1e" stroke-width="1.6" />
<line x1="614.30" y1="652.00" x2="620.70" y2="652.00" stroke="#1e1e1e" stroke-width="0.8"/>
<line x1="614.30" y1="654.70" x2="620.70" y2="654.70" stroke="#1e1e1e" stroke-width="0.8"/>
<line x1="617.50" y1="649.20" x2="617.50" y2="657.20" stroke="#1e1e1e" stroke-width="0.8"/>
</svg></body></html>
